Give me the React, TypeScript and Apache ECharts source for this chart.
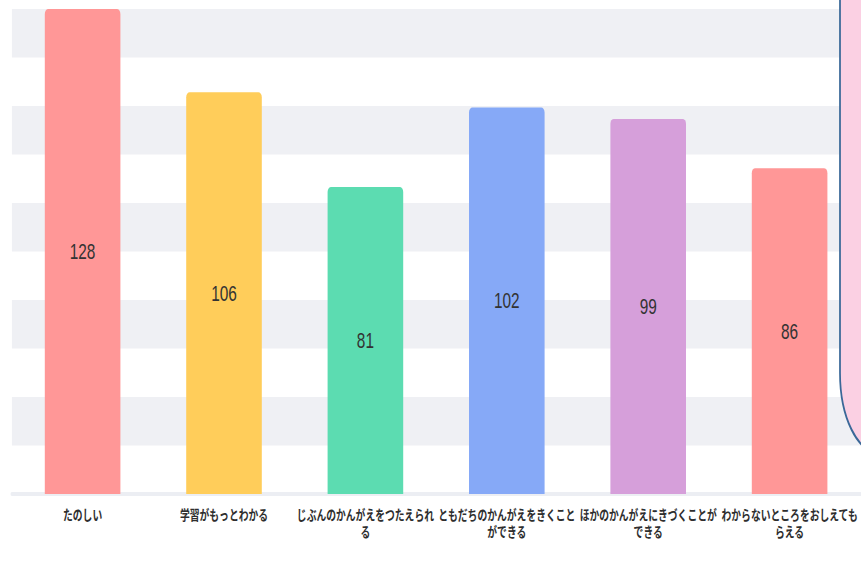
import React, { useEffect, useRef } from "react";
import * as echarts from "echarts";

// Survey answers and how many pupils chose each one
const categories: string[] = [
  "たのしい",
  "学習がもっとわかる",
  "じぶんのかんがえをつたえられる",
  "ともだちのかんがえをきくことができる",
  "ほかのかんがえにきづくことができる",
  "わからないところをおしえてもらえる",
];
const counts: number[] = [128, 106, 81, 102, 99, 86];
const barColors: string[] = ["#ff9797", "#ffcd5a", "#5cdcb1", "#86a9f7", "#d69fda"];

const axisMax = 128;
const splitCount = 10;

// Drawing width before the horizontal condensing applied to the whole chart
const SQUEEZE = 0.7;
const VIEW_W = 861;
const VIEW_H = 577;
const DRAW_W = Math.round(VIEW_W / SQUEEZE);

// Note panel at the right edge (left border and rounded lower-left corner)
const NOTE_SHAPE = "M 1200 -20 L 1200 373 A 56 80 0 0 0 1256 453 L 1320 453 L 1320 -20 Z";
echarts.graphic.registerShape("notePanel", echarts.graphic.extendPath(NOTE_SHAPE, {}) as any);

export default function App() {
  const ref = useRef<HTMLDivElement>(null);

  useEffect(() => {
    if (!ref.current) return;
    const chart = echarts.init(ref.current, undefined, { renderer: "svg" });
    chart.setOption({
      animation: false,
      grid: { left: 17, right: 1, top: 9, bottom: 83, containLabel: false },
      xAxis: {
        type: "category",
        data: categories,
        axisLine: { show: true, lineStyle: { color: "#eceef3", width: 4 } },
        axisTick: { show: false },
        axisLabel: {
          interval: 0,
          margin: 13,
          width: 198,
          overflow: "break",
          fontSize: 14,
          lineHeight: 17,
          fontWeight: "bold",
          color: "#2e2e2e",
          fontFamily: "'Liberation Sans', 'Noto Sans CJK JP', sans-serif",
        },
      },
      yAxis: {
        type: "value",
        min: 0,
        max: axisMax,
        interval: axisMax / splitCount,
        axisLabel: { show: false },
        axisLine: { show: false },
        axisTick: { show: false },
        splitLine: { show: false },
        splitArea: { show: true, areaStyle: { color: ["#ffffff", "#eff0f4"] } },
      },
      series: [
        {
          type: "bar",
          barWidth: 108,
          data: counts.map((v, i) => ({
            value: v,
            itemStyle: { color: barColors[i % barColors.length] },
          })),
          itemStyle: { borderRadius: [5, 5, 0, 0] },
          label: {
            show: true,
            position: "inside",
            fontSize: 22,
            color: "#333333",
            fontFamily: "'Liberation Sans', Arial, sans-serif",
          },
        },
      ],
      graphic: [
        {
          type: "notePanel",
          x: 0,
          y: 0,
          z: 100,
          style: { fill: "#fbd0e3", stroke: "#3a6898", lineWidth: 2.5 },
        },
      ],
    } as any);
    return () => chart.dispose();
  }, []);

  return (
    <div
      style={{
        position: "absolute",
        left: 0,
        top: 0,
        width: VIEW_W,
        height: VIEW_H,
        overflow: "hidden",
        background: "#ffffff",
      }}
    >
      <div
        ref={ref}
        style={{
          width: DRAW_W,
          height: VIEW_H,
          transform: `scaleX(${SQUEEZE})`,
          transformOrigin: "0 0",
        }}
      />
    </div>
  );
}
